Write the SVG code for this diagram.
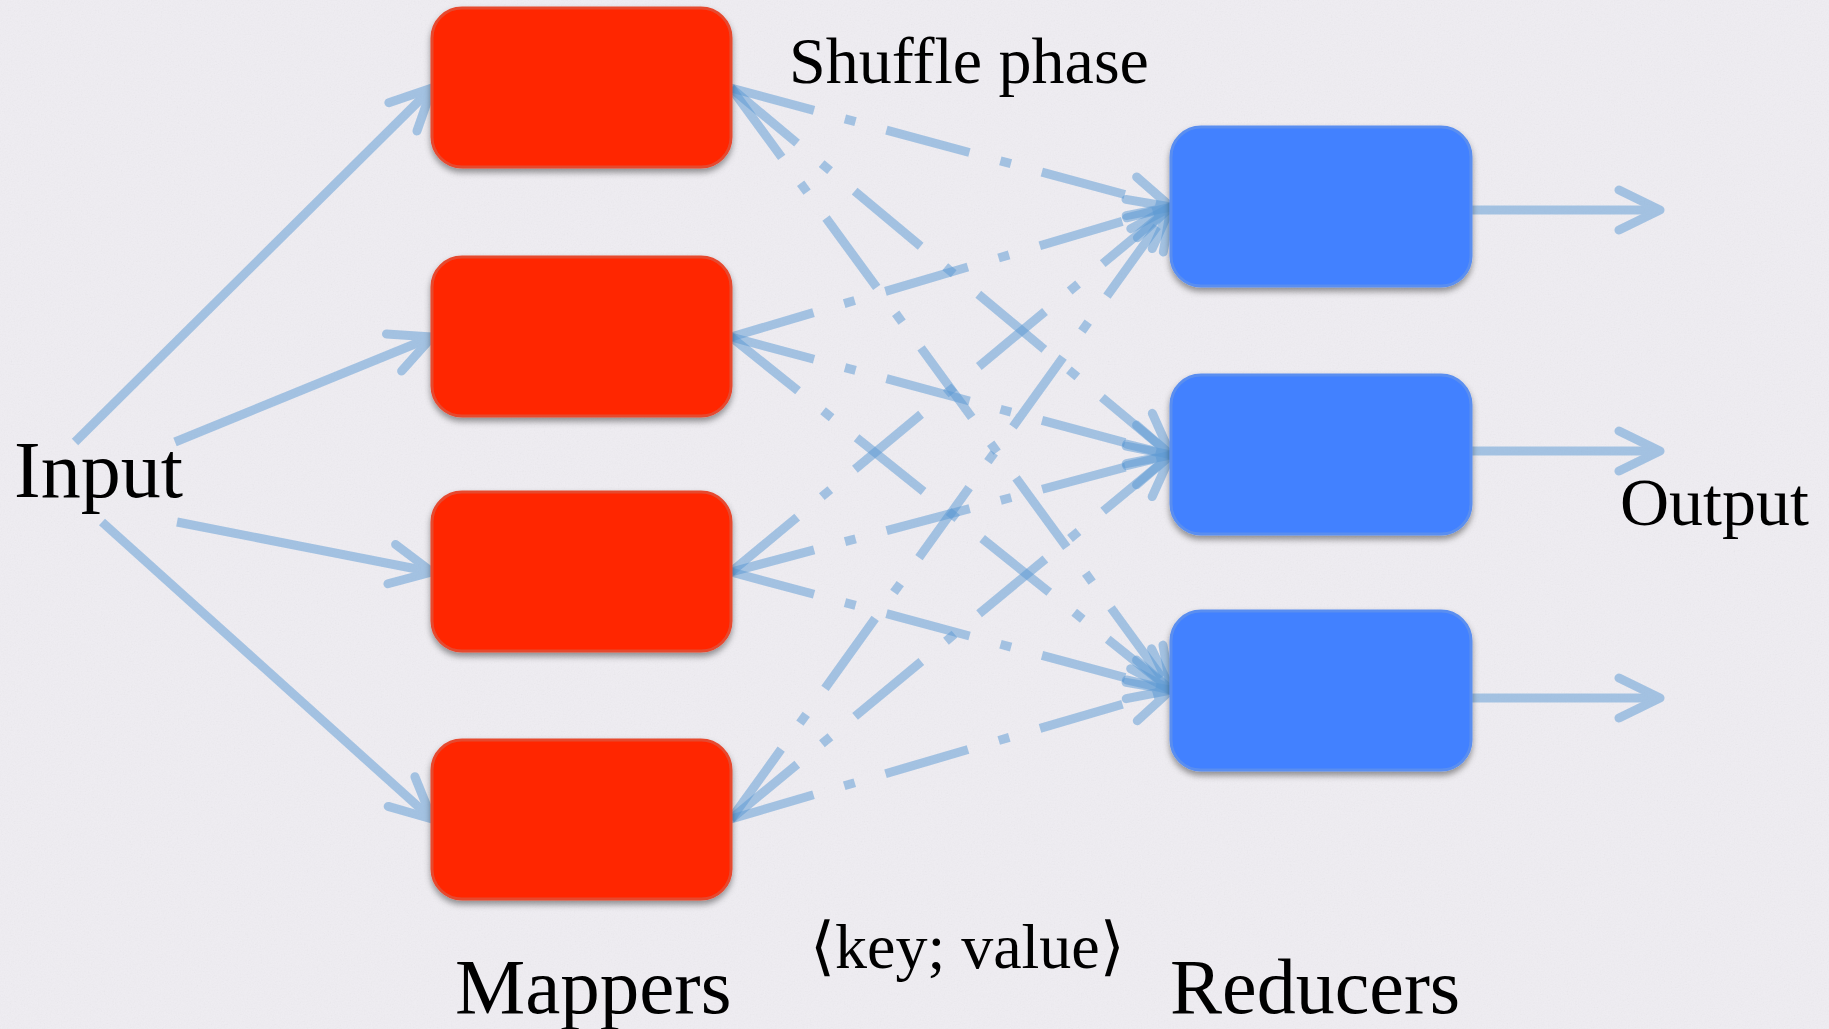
<svg xmlns="http://www.w3.org/2000/svg" width="1829" height="1029" viewBox="0 0 1829 1029">
  <defs>
    <style>
      .label { font-family: "Liberation Serif", "DejaVu Serif", serif; fill: #000; }
      .mapper rect { fill: #ff2600; stroke: #e6482f; stroke-width: 3; filter: url(#shadow); }
      .reducer rect { fill: #4281ff; stroke: #5a8ef0; stroke-width: 3; filter: url(#shadow); }
      .conn { fill: none; stroke: #5b99d4; stroke-width: 9; opacity: 0.5; marker-end: url(#head); }
      .shuffle { stroke-dasharray: 86 32 11 32; }
    </style>
    <filter id="shadow" x="-10%" y="-10%" width="120%" height="130%">
      <feDropShadow dx="0" dy="4" stdDeviation="3" flood-color="#000" flood-opacity="0.4"/>
    </filter>
    <filter id="paper" x="0" y="0" width="100%" height="100%">
      <feTurbulence type="fractalNoise" baseFrequency="0.7" numOctaves="3" seed="7"/>
      <feColorMatrix type="saturate" values="0"/>
    </filter>
    <marker id="head" markerUnits="userSpaceOnUse" viewBox="-50 -25 55 50" refX="0" refY="0" markerWidth="55" markerHeight="50" orient="auto" overflow="visible">
      <path d="M-41,-20 L0,0 L-41,20" fill="none" stroke="#5b99d4" stroke-width="9" stroke-linecap="round" stroke-linejoin="round"/>
    </marker>
  </defs>

  <!-- paper background -->
  <rect width="1829" height="1029" fill="#efedf2"/>
  <rect width="1829" height="1029" filter="url(#paper)" opacity="0.08"/>

  <!-- connectors -->
  <g id="connectors">
    <!-- input to mappers -->
    <path class="conn" d="M75,442 L432,88"/>
    <path class="conn" d="M175,442 L432,337"/>
    <path class="conn" d="M177,522 L432,572"/>
    <path class="conn" d="M102,522 L432,819"/>
    <!-- shuffle: every mapper to every reducer -->
    <path class="conn shuffle" d="M731,88 L1171,207"/>
    <path class="conn shuffle" d="M731,88 L1171,455"/>
    <path class="conn shuffle" d="M731,88 L1171,690"/>
    <path class="conn shuffle" d="M731,337 L1171,207"/>
    <path class="conn shuffle" d="M731,337 L1171,455"/>
    <path class="conn shuffle" d="M731,337 L1171,690"/>
    <path class="conn shuffle" d="M731,572 L1171,207"/>
    <path class="conn shuffle" d="M731,572 L1171,455"/>
    <path class="conn shuffle" d="M731,572 L1171,690"/>
    <path class="conn shuffle" d="M731,819 L1171,207"/>
    <path class="conn shuffle" d="M731,819 L1171,455"/>
    <path class="conn shuffle" d="M731,819 L1171,690"/>
    <!-- reducers to output -->
    <path class="conn" d="M1471,210 L1660,210"/>
    <path class="conn" d="M1471,451 L1660,451"/>
    <path class="conn" d="M1471,698 L1660,698"/>
  </g>

  <!-- mappers -->
  <g id="mapper1" class="mapper"><rect x="432" y="8" width="299" height="159" rx="30"/></g>
  <g id="mapper2" class="mapper"><rect x="432" y="257" width="299" height="159" rx="30"/></g>
  <g id="mapper3" class="mapper"><rect x="432" y="492" width="299" height="159" rx="30"/></g>
  <g id="mapper4" class="mapper"><rect x="432" y="740" width="299" height="159" rx="30"/></g>

  <!-- reducers -->
  <g id="reducer1" class="reducer"><rect x="1171" y="127" width="300" height="159" rx="30"/></g>
  <g id="reducer2" class="reducer"><rect x="1171" y="375" width="300" height="159" rx="30"/></g>
  <g id="reducer3" class="reducer"><rect x="1171" y="611" width="300" height="159" rx="30"/></g>

  <!-- labels -->
  <g id="labels">
    <text class="label" x="14" y="497" font-size="80">Input</text>
    <text class="label" x="789" y="83" font-size="66">Shuffle phase</text>
    <text class="label" x="1620" y="525" font-size="68">Output</text>
    <text class="label" x="455" y="1013" font-size="79">Mappers</text>
    <text class="label" x="1170" y="1013" font-size="78">Reducers</text>
    <text class="label" x="810" y="968" font-size="64">⟨key; value⟩</text>
  </g>
</svg>
